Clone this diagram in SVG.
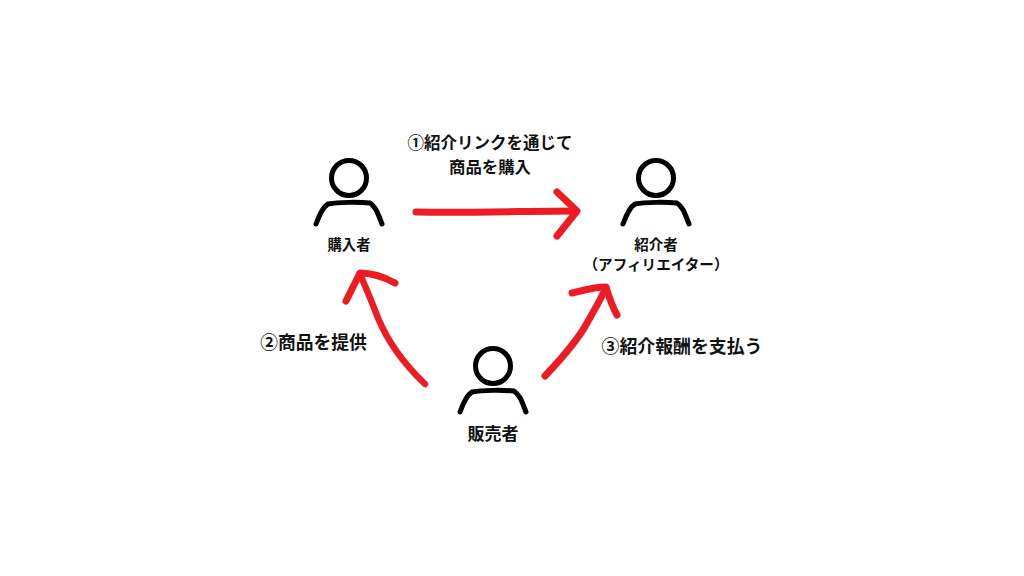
<svg xmlns="http://www.w3.org/2000/svg" width="1024" height="576" viewBox="0 0 1024 576">
<style>
text{font-family:"Noto Sans CJK JP","Noto Sans",sans-serif;font-weight:700;fill:#111;text-anchor:middle}
.p{fill:none;stroke:#000;stroke-width:5;stroke-linecap:round;stroke-linejoin:round}
.a{fill:none;stroke:#ed1c24;stroke-linecap:round;stroke-linejoin:round}
</style>
<defs>
<g id="person">
<circle class="p" cx="0" cy="0" r="17.5"/>
<path class="p" d="M-33 46C-29 35-26 29-21 26C-10 24 10 24 21 25C27 29 29 36 33 46"/>
</g>
</defs>
<rect width="1024" height="576" fill="#fff"/>
<g id="connectors">
<path class="a" stroke-width="7" d="M416 212C470 213 530 211 576 211"/>
<path class="a" stroke-width="7" d="M557 192L577 211L557 236"/>
<path class="a" stroke-width="6.500" d="M425 384C405 365 388 342 378 318C372 302 366 288 360 274"/>
<path class="a" stroke-width="7" d="M346 301C351 291 355 283 360 273C373 273 384 277 395 283"/>
<path class="a" stroke-width="7" d="M545 376C562 358 578 340 587 323C594 311 600 300 606 288"/>
<path class="a" stroke-width="7" d="M572 293C584 290 595 287 606 287C609 297 612 306 617 315"/>
</g>
<g id="buyer"><use href="#person" x="349" y="178"/><text x="349" y="250" font-size="14.300">購入者</text></g>
<g id="affiliate"><use href="#person" x="656" y="178"/><text x="656" y="250" font-size="14.500">紹介者</text><text x="656" y="269.500" font-size="14.600">（アフィリエイター）</text></g>
<g id="seller"><use href="#person" x="493" y="366"/><text x="493" y="440" font-size="17">販売者</text></g>
<g id="labels">
<text x="490" y="149" font-size="16.500">①紹介リンクを通じて</text>
<text x="490" y="173" font-size="16.400">商品を購入</text>
<text x="313.500" y="349" font-size="17.800">②商品を提供</text>
<text x="682" y="353" font-size="17.900">③紹介報酬を支払う</text>
</g>
</svg>
